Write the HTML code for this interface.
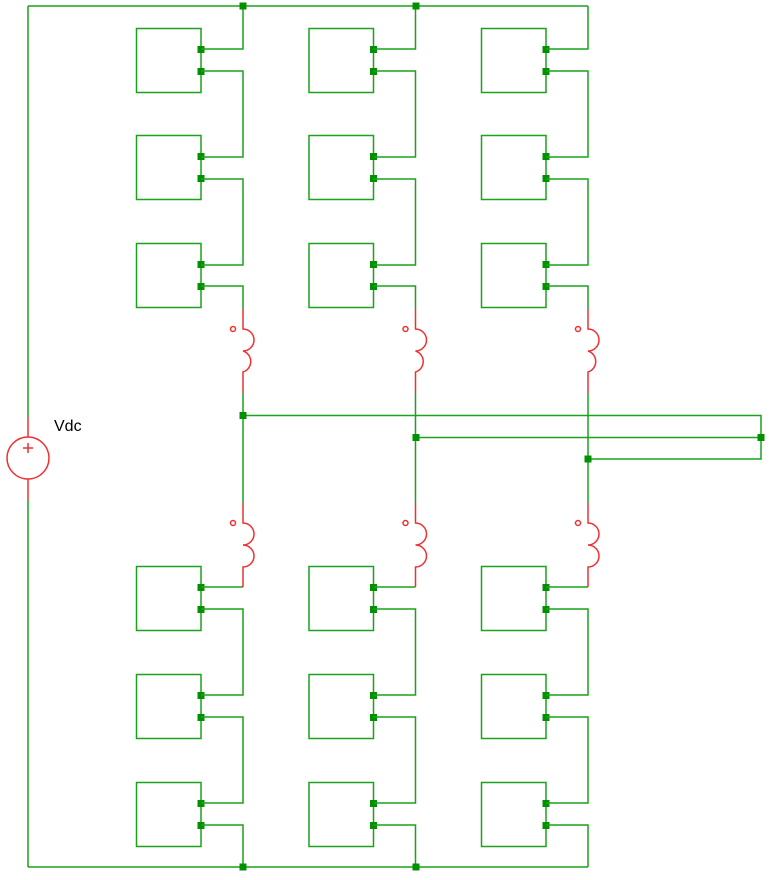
<!DOCTYPE html>
<html><head><meta charset="utf-8"><style>
html,body{margin:0;padding:0;background:#fff;}
svg{display:block;}
</style></head><body>
<svg width="769" height="880" viewBox="0 0 769 880" xmlns="http://www.w3.org/2000/svg">
<defs>
<g id="m">
<rect x="136.5" y="0.5" width="64.5" height="64" fill="none" stroke="#1aa31a" stroke-width="1.5"/>
<rect x="197.5" y="18" width="7" height="7" fill="#009000"/>
<rect x="197.5" y="40" width="7" height="7" fill="#009000"/>
</g>
<g id="c">
<use href="#m" y="28"/><use href="#m" y="135"/><use href="#m" y="243"/>
<use href="#m" y="566"/><use href="#m" y="674"/><use href="#m" y="782"/>
<g fill="none" stroke="#1aa31a" stroke-width="1.5">
<path d="M201,49 H243 V6 M201,71 H243 V157 H201 M201,179 H243 V265 H201 M201,286 H243 V309"/>
<path d="M243,393 V503"/>
<path d="M243,587 H201 M201,609 H243 V695 H201 M201,717 H243 V803 H201 M201,825 H243 V867"/>
</g>
<g fill="none" stroke="#f03030" stroke-width="1.5">
<path d="M243,309 V329 A11,11 0 0 1 243,351 A11,11 0 0 1 243,372 V393"/>
<path d="M243,503 V523 A11,11 0 0 1 243,545 A11,11 0 0 1 243,567 V587"/>
<circle cx="233" cy="329" r="2.5"/>
<circle cx="233" cy="523" r="2.5"/>
</g>
</g>
</defs>
<use href="#c"/>
<use href="#c" x="172.5"/>
<use href="#c" x="345"/>
<g fill="none" stroke="#1aa31a" stroke-width="1.5">
<path d="M28,6 H588 M28,867 H588 M28,6 V417 M28,500 V867"/>
<path d="M243,415.5 H761 V459 H588 M416,437.5 H761"/>
</g>
<g fill="none" stroke="#f03030" stroke-width="1.5">
<path d="M28,417 V437 M28,479 V500"/>
<circle cx="28" cy="458" r="21"/>
<path d="M23,448 H33 M28,443 V453"/>
</g>
<g fill="#009000">
<rect x="239.5" y="2.5" width="7" height="7"/>
<rect x="412.5" y="2.5" width="7" height="7"/>
<rect x="239.5" y="863.5" width="7" height="7"/>
<rect x="412.5" y="863.5" width="7" height="7"/>
<rect x="239.5" y="412" width="7" height="7"/>
<rect x="412.5" y="434" width="7" height="7"/>
<rect x="584.5" y="455.5" width="7" height="7"/>
<rect x="757.5" y="434" width="7" height="7"/>
</g>
<text x="54" y="431" font-family="Liberation Sans, sans-serif" font-size="16" fill="#000">Vdc</text>
</svg>
</body></html>
